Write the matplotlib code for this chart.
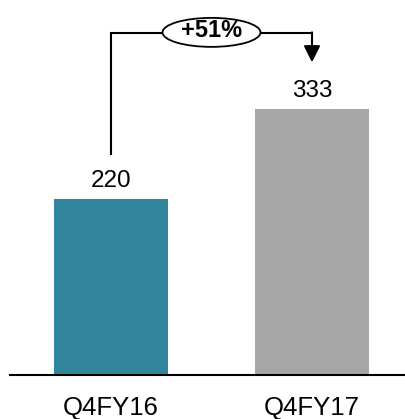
import matplotlib.pyplot as plt
from matplotlib.patches import Ellipse

# data
periods = ["Q4FY16", "Q4FY17"]
revenue = [220, 333]
growth_label = "+51%"
bar_colors = ["#31859C", "#A6A6A6"]

plt.rcParams['font.family'] = ['Liberation Sans', 'DejaVu Sans']

fig = plt.figure(figsize=(4.05, 4.19), dpi=100)
ax = fig.add_axes([10 / 405, 44 / 419, 395 / 405, 375 / 419])

x = list(range(len(periods)))
ax.bar(x, revenue, width=0.565, color=bar_colors, zorder=2)
ax.set_xlim(-0.5025, 1.4627)
ax.set_ylim(0, 469)

for xi, v in zip(x, revenue):
    ax.text(xi, v + 15, str(v), ha='center', va='baseline', fontsize=17.5)

# growth bracket
top = 427.5
ax.plot([x[0], x[0], x[1]], [revenue[0] + 57, top, top], color='black', lw=1.5,
        solid_joinstyle='miter', zorder=3)
ax.annotate("", xy=(x[1], revenue[1] + 58), xytext=(x[1], top + 1),
            arrowprops=dict(arrowstyle='-|>,head_length=1.0,head_width=0.5',
                            color='black', lw=1.5, shrinkA=0, shrinkB=0))
mid = (x[0] + x[1]) / 2
ax.add_patch(Ellipse((mid, top + 1), width=98 / 201, height=29 / 0.8,
                     facecolor='white', edgecolor='black', lw=1.3, zorder=4))
ax.text(mid, top + 3, growth_label, ha='center', va='center', fontsize=17,
        fontweight='bold', zorder=5)

for s in ['top', 'left', 'right']:
    ax.spines[s].set_visible(False)
ax.spines['bottom'].set_linewidth(1.5)
ax.set_yticks([])
ax.set_xticks(x)
ax.set_xticklabels(periods, fontsize=18.5)
ax.tick_params(axis='x', length=0, pad=15)

fig.savefig("out.png", dpi=100)
